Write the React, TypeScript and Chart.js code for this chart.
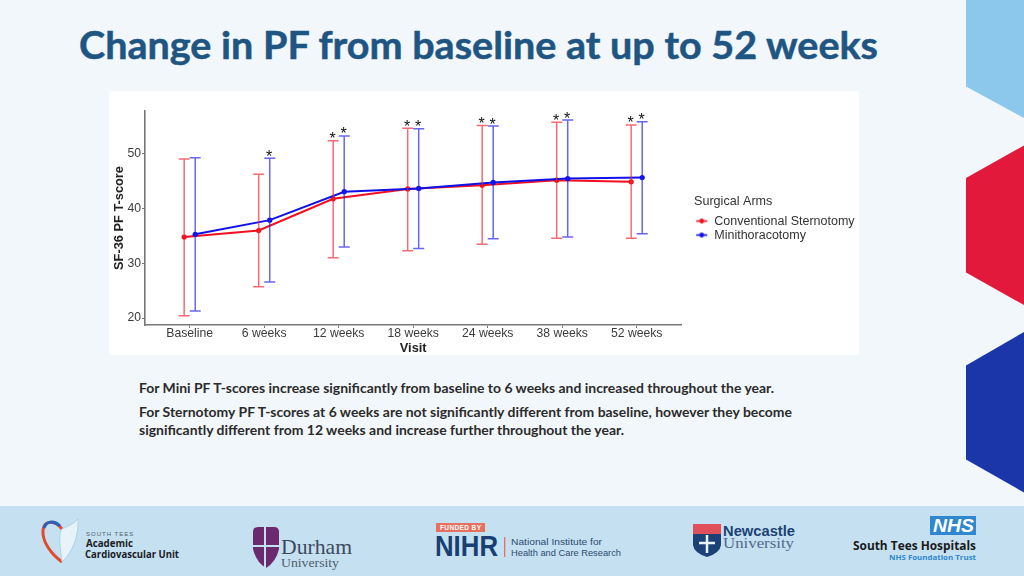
import React, { useEffect, useRef } from "react";
import { Chart, registerables } from "chart.js";

Chart.register(...registerables);

const categories = ["Baseline", "6 weeks", "12 weeks", "18 weeks", "24 weeks", "38 weeks", "52 weeks"];
const sternotomyMean = [34.8, 36.0, 41.8, 43.6, 44.3, 45.2, 44.9];
const sternotomyUpper = [49.1, 46.3, 52.4, 54.7, 55.2, 55.8, 55.3];
const sternotomyLower = [20.4, 25.7, 31.0, 32.3, 33.5, 34.6, 34.6];
const sternotomyStars = [false, false, true, true, true, true, true];
const miniMean = [35.3, 37.9, 43.1, 43.7, 44.8, 45.5, 45.7];
const miniUpper = [49.3, 49.2, 53.3, 54.6, 55.1, 56.2, 55.9];
const miniLower = [21.3, 26.6, 33.0, 32.7, 34.5, 34.8, 35.4];
const miniStars = [false, true, true, true, true, true, true];
const yTicks = [20, 30, 40, 50];
const seriesNames = ["Conventional Sternotomy", "Minithoracotomy"];
const seriesColors = ["#f01020", "#1010e8"];
const whiskerColors = ["rgba(240,40,50,0.68)", "rgba(30,30,235,0.68)"];
const dodge = 0.074;

const FONT = '"Liberation Sans", Arial, sans-serif';

function legendKey(color: string) {
  const c = document.createElement("canvas");
  c.width = 13;
  c.height = 7;
  const g = c.getContext("2d")!;
  g.strokeStyle = color;
  g.fillStyle = color;
  g.lineWidth = 1.6;
  g.beginPath();
  g.moveTo(1, 3.5);
  g.lineTo(12, 3.5);
  g.stroke();
  g.beginPath();
  g.arc(6.5, 3.5, 2.4, 0, Math.PI * 2);
  g.fill();
  return c;
}

const legendPlacement = {
  id: "legendPlacement",
  afterLayout(chart: any) {
    const l = chart.legend;
    const dx = 585 - l.left;
    l.left += dx;
    l.right += dx;
    l.top -= 14;
    l.bottom -= 14;
  },
};

const whiskerPlugin = {
  id: "whiskers",
  afterDatasetsDraw(chart: any) {
    const { ctx, scales } = chart;
    const { x, y } = scales;
    const groups = [
      { off: -dodge, up: sternotomyUpper, lo: sternotomyLower, stars: sternotomyStars, color: whiskerColors[0] },
      { off: dodge, up: miniUpper, lo: miniLower, stars: miniStars, color: whiskerColors[1] },
    ];
    ctx.save();
    for (const g of groups) {
      categories.forEach((_, i) => {
        const px = x.getPixelForValue(i + g.off);
        const top = y.getPixelForValue(g.up[i]);
        const bot = y.getPixelForValue(g.lo[i]);
        ctx.strokeStyle = g.color;
        ctx.lineWidth = 1.5;
        ctx.beginPath();
        ctx.moveTo(px, top);
        ctx.lineTo(px, bot);
        ctx.moveTo(px - 5.5, top);
        ctx.lineTo(px + 5.5, top);
        ctx.moveTo(px - 5.5, bot);
        ctx.lineTo(px + 5.5, bot);
        ctx.stroke();
        if (g.stars[i]) {
          ctx.fillStyle = "#111";
          ctx.font = `16px ${FONT}`;
          ctx.textAlign = "center";
          ctx.textBaseline = "alphabetic";
          ctx.fillText("*", px - 0.5, top + 3.5);
        }
      });
    }
    ctx.restore();
  },
};

function Decor() {
  return (
    <svg width={1024} height={576} style={{ position: "absolute", left: 0, top: 0 }}>
      <rect x={0} y={0} width={1024} height={576} fill="#f2f7fb" />
      <rect x={0} y={506} width={1024} height={70} fill="#c5e1f1" />
      <polygon points="966,0 1024,0 1024,118 966,86.5" fill="#8cc8ec" />
      <polygon points="966,178 1024,145.5 1024,305 966,272.5" fill="#e3193c" />
      <polygon points="966,365.5 1024,332 1024,492.5 966,459.5" fill="#1a36a8" />
      <rect x={109} y={91} width={750} height={264} rx={3} fill="#ffffff" />

      <text x={79} y={59} fontFamily="Lato" fontWeight={700} fontSize={38} fill="#1f5582" stroke="#1f5582" strokeWidth={0.5} textLength={799} lengthAdjust="spacingAndGlyphs">
        Change in PF from baseline at up to 52 weeks
      </text>

      <g fontFamily="Lato" fontWeight={700} fontSize={13} fill="#2b2b2b">
        <text x={139} y={393} textLength={635} lengthAdjust="spacingAndGlyphs">For Mini PF T-scores increase significantly from baseline to 6 weeks and increased throughout the year.</text>
        <text x={139} y={417} textLength={653} lengthAdjust="spacingAndGlyphs">For Sternotomy PF T-scores at 6 weeks are not significantly different from baseline, however they become</text>
        <text x={139} y={435} textLength={485} lengthAdjust="spacingAndGlyphs">significantly different from 12 weeks and increase further throughout the year.</text>
      </g>

      {/* South Tees Academic Cardiovascular Unit */}
      <path d="M62 562 C50 553 42 541 43 530 C44 521 54 519 62 529" fill="none" stroke="#e2492f" strokeWidth={3} />
      <path d="M62 529 C66 527 74 524 78 519 C79 535 73 552 62 562 C60 546 58 535 62 529 Z" fill="#e8f3f9" stroke="#9fcbe6" strokeWidth={0.8} />
      <path d="M44 528 C46 521 54 520 60 526" fill="none" stroke="#2a62b8" strokeWidth={3} />
      <text x={86} y={536} fontFamily="Liberation Sans" fontSize={6} letterSpacing={1} fill="#50606e">SOUTH TEES</text>
      <text x={86} y={547} fontFamily="Open Sans" fontWeight={700} fontSize={10.5} fill="#1b1b24" textLength={47} lengthAdjust="spacingAndGlyphs">Academic</text>
      <text x={85} y={558} fontFamily="Open Sans" fontWeight={700} fontSize={10.5} fill="#1b1b24" textLength={94} lengthAdjust="spacingAndGlyphs">Cardiovascular Unit</text>

      {/* Durham */}
      <path d="M253 532 Q253 527 258 527 L274 527 Q279 527 279 532 L279 549 Q276 562 266 568 Q256 562 253 549 Z" fill="#6b2a6d" />
      <path d="M265 527 V568 M253 546 H279" stroke="#c5e1f1" strokeWidth={2} />
      <text x={281} y={554} fontFamily="Liberation Serif" fontSize={22} fill="#3c4a5c" textLength={71} lengthAdjust="spacingAndGlyphs">Durham</text>
      <text x={281} y={567} fontFamily="Liberation Serif" fontSize={13} fill="#4f5c6c" textLength={58} lengthAdjust="spacingAndGlyphs">University</text>

      {/* NIHR */}
      <rect x={436} y={523} width={49} height={9} fill="#e8705f" />
      <text x={440} y={530} fontFamily="Liberation Sans" fontWeight={700} fontSize={6.5} fill="#ffffff" textLength={41}>FUNDED BY</text>
      <text x={435} y={556} fontFamily="Liberation Sans" fontWeight={700} fontSize={29} fill="#193e72" textLength={63} lengthAdjust="spacingAndGlyphs">NIHR</text>
      <rect x={504} y={537} width={1.3} height={20} fill="#e8705f" />
      <text x={511} y={545} fontFamily="Liberation Sans" fontSize={9} fill="#2c4a70" textLength={91} lengthAdjust="spacingAndGlyphs">National Institute for</text>
      <text x={511} y={556} fontFamily="Liberation Sans" fontSize={9} fill="#2c4a70" textLength={110} lengthAdjust="spacingAndGlyphs">Health and Care Research</text>

      {/* Newcastle */}
      <rect x={693} y={524} width={28} height={10} fill="#e0505a" />
      <path d="M693 534 H721 V545 Q720 553 707 557 Q694 553 693 545 Z" fill="#1c4176" />
      <path d="M707 535 V553 M699 543 H715" stroke="#e8f3f9" strokeWidth={2.5} />
      <text x={723} y={536} fontFamily="Liberation Sans" fontWeight={700} fontSize={15} fill="#1c4176" textLength={72} lengthAdjust="spacingAndGlyphs">Newcastle</text>
      <text x={723} y={548} fontFamily="Liberation Serif" fontSize={15} fill="#51688c" textLength={71} lengthAdjust="spacingAndGlyphs">University</text>

      {/* NHS */}
      <rect x={930} y={516} width={46} height={19} fill="#2f87cf" />
      <text x={933} y={532} fontFamily="Liberation Sans" fontWeight={700} fontStyle="italic" fontSize={18} fill="#ffffff" textLength={41} lengthAdjust="spacingAndGlyphs">NHS</text>
      <text x={853} y={550} fontFamily="Open Sans" fontWeight={700} fontSize={12.5} fill="#1a1a1a" textLength={123} lengthAdjust="spacingAndGlyphs">South Tees Hospitals</text>
      <text x={889} y={560} fontFamily="Open Sans" fontWeight={700} fontSize={7.5} fill="#2f87cf" textLength={87} lengthAdjust="spacingAndGlyphs">NHS Foundation Trust</text>
    </svg>
  );
}

export default function App() {
  const ref = useRef<HTMLCanvasElement>(null);
  useEffect(() => {
    const keys = seriesColors.map(legendKey);
    const chart = new Chart(ref.current!, {
      type: "scatter",
      data: {
        datasets: [
          {
            label: seriesNames[0],
            data: sternotomyMean.map((v, i) => ({ x: i - dodge, y: v })),
            showLine: true,
            borderColor: seriesColors[0],
            backgroundColor: seriesColors[0],
            borderWidth: 2,
            pointRadius: 2.6,
            pointBorderWidth: 0,
            order: 2,
          },
          {
            label: seriesNames[1],
            data: miniMean.map((v, i) => ({ x: i + dodge, y: v })),
            showLine: true,
            borderColor: seriesColors[1],
            backgroundColor: seriesColors[1],
            borderWidth: 2,
            pointRadius: 2.6,
            pointBorderWidth: 0,
            order: 1,
          },
        ],
      },
      options: {
        animation: false,
        responsive: false,
        layout: { padding: { top: 20, right: 7, left: 3, bottom: 0 } },
        scales: {
          x: {
            type: "linear",
            min: -0.6,
            max: 6.6,
            afterBuildTicks: (s: any) => {
              s.ticks = categories.map((_, i) => ({ value: i }));
            },
            afterFit: (s: any) => {
              s.height = 30;
            },
            ticks: {
              autoSkip: false,
              maxRotation: 0,
              padding: -2,
              color: "#3c3c3c",
              font: { family: FONT, size: 12.2 },
              callback: (v: any) => categories[v as number],
            },
            grid: { drawOnChartArea: false, drawTicks: true, tickLength: 3, color: "#777" },
            border: { color: "#777", width: 1.6 },
            title: {
              display: true,
              text: "Visit",
              color: "#222",
              padding: { top: 0, bottom: -1 },
              font: { family: FONT, size: 12.8, weight: "bold" },
            },
          },
          y: {
            min: 18.72,
            max: 57.86,
            afterBuildTicks: (s: any) => {
              s.ticks = yTicks.map((v) => ({ value: v }));
            },
            afterFit: (s: any) => {
              s.width = 33;
            },
            ticks: { padding: 1, color: "#3c3c3c", font: { family: FONT, size: 12.2 } },
            grid: { drawOnChartArea: false, drawTicks: true, tickLength: 3, color: "#777" },
            border: { color: "#777", width: 1.6 },
            title: {
              display: true,
              text: "SF-36 PF T-score",
              color: "#222",
              padding: { top: 0, bottom: 0 },
              font: { family: FONT, size: 12.8, weight: "bold" },
            },
          },
        },
        plugins: {
          tooltip: { enabled: false },
          legend: {
            position: "right",
            align: "center",
            title: {
              display: true,
              text: "Surgical Arms",
              color: "#333",
              padding: { top: 0, bottom: 3 },
              font: { family: FONT, size: 12.6 },
              position: "start",
            } as any,
            labels: {
              usePointStyle: true,
              boxWidth: 13,
              boxHeight: 7,
              padding: 1.5,
              color: "#333",
              font: { family: FONT, size: 12.5 },
              generateLabels: () =>
                seriesNames.map((text, i) => ({
                  text,
                  pointStyle: keys[i],
                  fontColor: "#333",
                  datasetIndex: i,
                  lineWidth: 0,
                })),
            },
          },
        },
      } as any,
      plugins: [whiskerPlugin, legendPlacement],
    });
    return () => chart.destroy();
  }, []);
  return (
    <div style={{ position: "absolute", left: 0, top: 0, width: 1024, height: 576, overflow: "hidden" }}>
      <Decor />
      <canvas ref={ref} width={750} height={264} style={{ position: "absolute", left: 109, top: 91, width: 750, height: 264 }} />
    </div>
  );
}
